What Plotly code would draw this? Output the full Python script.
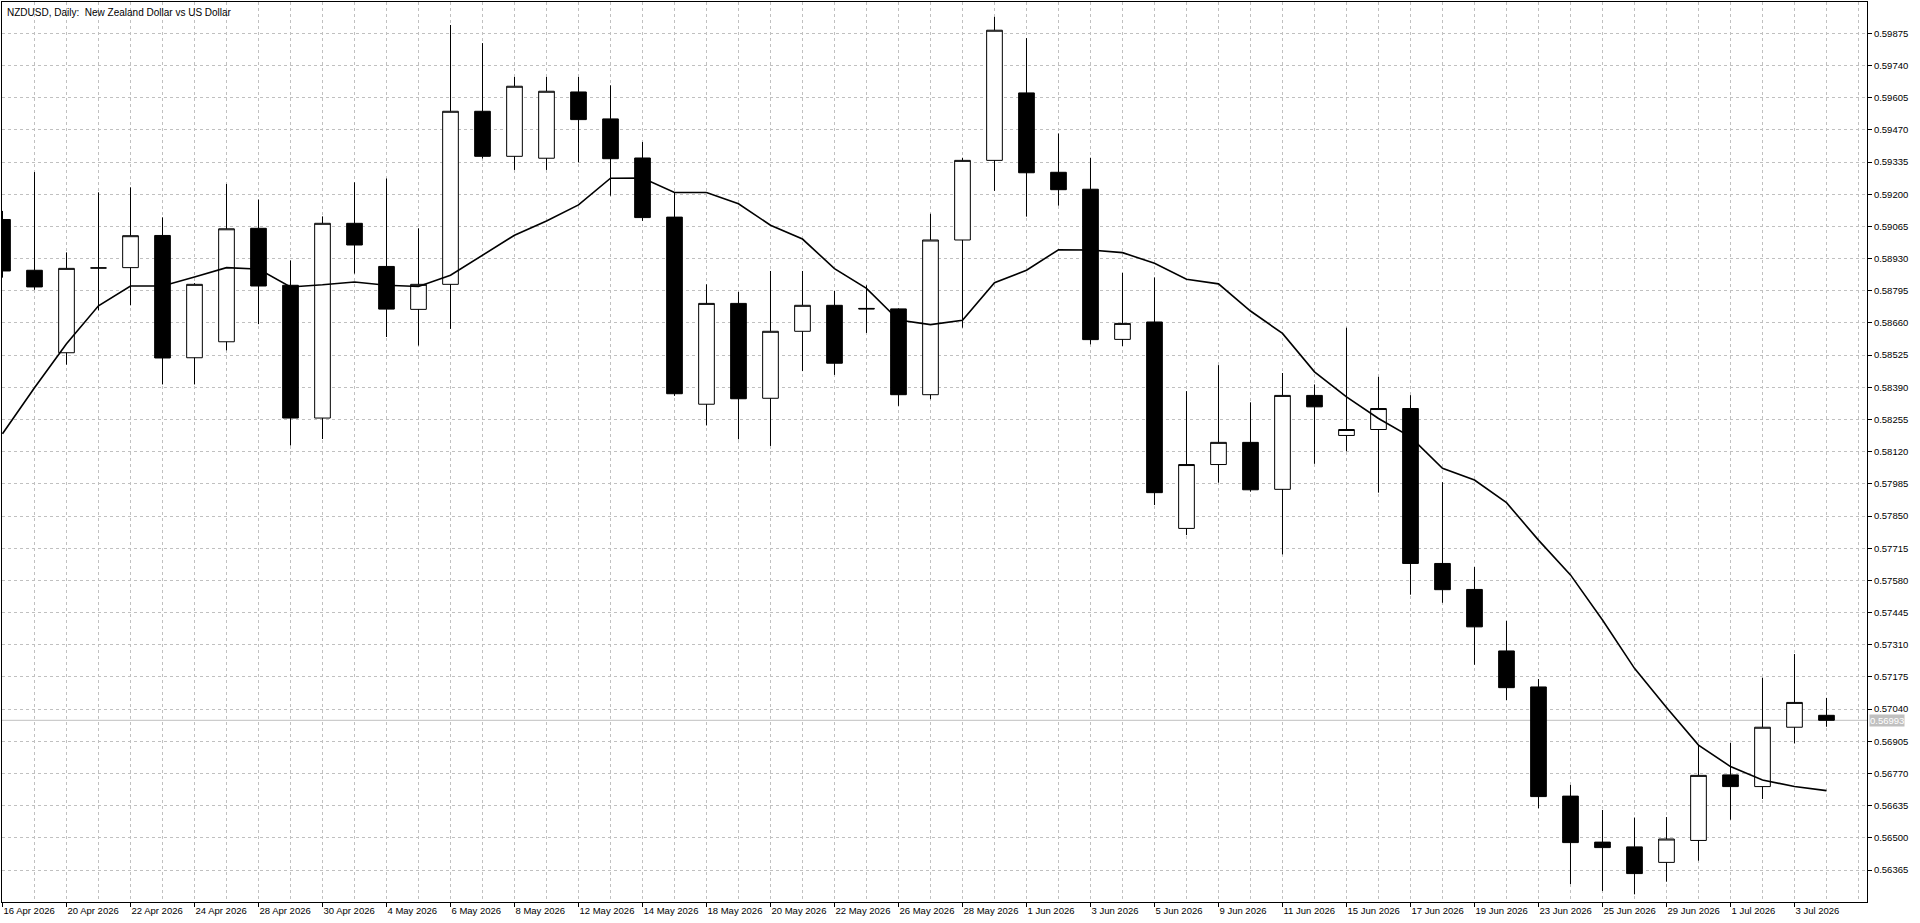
import plotly.graph_objects as go

dates = ["16 Apr 2026", "17 Apr 2026", "20 Apr 2026", "21 Apr 2026", "22 Apr 2026", "23 Apr 2026",
         "24 Apr 2026", "27 Apr 2026", "28 Apr 2026", "29 Apr 2026", "30 Apr 2026", "1 May 2026",
         "4 May 2026", "5 May 2026", "6 May 2026", "7 May 2026", "8 May 2026", "11 May 2026",
         "12 May 2026", "13 May 2026", "14 May 2026", "15 May 2026", "18 May 2026", "19 May 2026",
         "20 May 2026", "21 May 2026", "22 May 2026", "25 May 2026", "26 May 2026", "27 May 2026",
         "28 May 2026", "29 May 2026", "1 Jun 2026", "2 Jun 2026", "3 Jun 2026", "4 Jun 2026",
         "5 Jun 2026", "8 Jun 2026", "9 Jun 2026", "10 Jun 2026", "11 Jun 2026", "12 Jun 2026",
         "15 Jun 2026", "16 Jun 2026", "17 Jun 2026", "18 Jun 2026", "19 Jun 2026", "22 Jun 2026",
         "23 Jun 2026", "24 Jun 2026", "25 Jun 2026", "26 Jun 2026", "29 Jun 2026", "30 Jun 2026",
         "1 Jul 2026", "2 Jul 2026", "3 Jul 2026", "6 Jul 2026"]

opens = [0.59094, 0.58881, 0.58535, 0.58890, 0.58892, 0.59027, 0.58514, 0.58581, 0.59057, 0.58818,
         0.58261, 0.59078, 0.58897, 0.58717, 0.58822, 0.59548, 0.59359, 0.59351, 0.59629, 0.59516,
         0.59352, 0.59104, 0.58319, 0.58742, 0.58344, 0.58625, 0.58734, 0.58721, 0.58719, 0.58359,
         0.59008, 0.59342, 0.59625, 0.59292, 0.59221, 0.58591, 0.58664, 0.57798, 0.58066, 0.58159,
         0.57962, 0.58356, 0.58188, 0.58213, 0.58301, 0.57651, 0.57542, 0.57284, 0.57133, 0.56675,
         0.56482, 0.56462, 0.56397, 0.56489, 0.56764, 0.56715, 0.56964, 0.57014]
highs = [0.59130, 0.59293, 0.58956, 0.59208, 0.59229, 0.59103, 0.58827, 0.59243, 0.59178, 0.58922,
         0.59107, 0.59250, 0.59266, 0.59057, 0.59910, 0.59834, 0.59692, 0.59692, 0.59692, 0.59657,
         0.59419, 0.59207, 0.58822, 0.58790, 0.58878, 0.58878, 0.58794, 0.58818, 0.58721, 0.59118,
         0.59353, 0.59944, 0.59855, 0.59455, 0.59353, 0.58870, 0.58851, 0.58374, 0.58483, 0.58327,
         0.58450, 0.58402, 0.58640, 0.58434, 0.58357, 0.57992, 0.57636, 0.57410, 0.57166, 0.56722,
         0.56617, 0.56585, 0.56587, 0.56889, 0.56898, 0.57172, 0.57271, 0.57087]
lows = [0.58850, 0.58799, 0.58485, 0.58713, 0.58734, 0.58402, 0.58402, 0.58545, 0.58655, 0.58146,
        0.58173, 0.58867, 0.58601, 0.58565, 0.58635, 0.59350, 0.59302, 0.59302, 0.59334, 0.59194,
        0.59088, 0.58354, 0.58230, 0.58172, 0.58144, 0.58458, 0.58442, 0.58618, 0.58312, 0.58340,
        0.58640, 0.59214, 0.59106, 0.59152, 0.58570, 0.58563, 0.57896, 0.57770, 0.57990, 0.57952,
        0.57689, 0.58069, 0.58122, 0.57948, 0.57520, 0.57486, 0.57226, 0.57078, 0.56624, 0.56306,
        0.56277, 0.56263, 0.56316, 0.56404, 0.56576, 0.56663, 0.56896, 0.56966]
closes = [0.58878, 0.58811, 0.58889, 0.58891, 0.59026, 0.58513, 0.58822, 0.59055, 0.58815, 0.58261,
          0.59078, 0.58987, 0.58718, 0.58822, 0.59548, 0.59359, 0.59653, 0.59632, 0.59513, 0.59349,
          0.59102, 0.58363, 0.58742, 0.58342, 0.58625, 0.58734, 0.58491, 0.58719, 0.58359, 0.59008,
          0.59342, 0.59888, 0.59290, 0.59219, 0.58590, 0.58658, 0.57948, 0.58066, 0.58159, 0.57960,
          0.58356, 0.58308, 0.58213, 0.58301, 0.57651, 0.57541, 0.57385, 0.57130, 0.56673, 0.56480,
          0.56459, 0.56350, 0.56495, 0.56762, 0.56715, 0.56964, 0.57068, 0.56993]
ma = [0.58195, 0.58388, 0.58573, 0.58732, 0.58815, 0.58815, 0.58853, 0.58892, 0.58886, 0.58811,
      0.58820, 0.58832, 0.58818, 0.58813, 0.58860, 0.58945, 0.59028, 0.59088, 0.59155, 0.59267,
      0.59268, 0.59207, 0.59207, 0.59160, 0.59070, 0.59012, 0.58888, 0.58805, 0.58672, 0.58653,
      0.58671, 0.58829, 0.58881, 0.58967, 0.58966, 0.58955, 0.58910, 0.58843, 0.58824, 0.58710,
      0.58616, 0.58455, 0.58350, 0.58259, 0.58182, 0.58050, 0.58001, 0.57906, 0.57749, 0.57603,
      0.57414, 0.57211, 0.57047, 0.56889, 0.56799, 0.56743, 0.56715, 0.56698]

price_ticks = [0.56365, 0.56500, 0.56635, 0.56770, 0.56905, 0.57040, 0.57175, 0.57310, 0.57445,
               0.57580, 0.57715, 0.57850, 0.57985, 0.58120, 0.58255, 0.58390, 0.58525, 0.58660,
               0.58795, 0.58930, 0.59065, 0.59200, 0.59335, 0.59470, 0.59605, 0.59740, 0.59875]

title_text = "NZDUSD, Daily:\u00a0 New Zealand Dollar vs US Dollar"

idx = list(range(len(dates)))
label_idx = idx[::2]
label_txt = [dates[i] for i in label_idx]

FONT = "Liberation Sans, DejaVu Sans, sans-serif"
GRID = "#c0c0c0"

fig = go.Figure()
fig.add_trace(go.Candlestick(
    x=idx, open=opens, high=highs, low=lows, close=closes,
    increasing=dict(line=dict(color="black", width=1), fillcolor="white"),
    decreasing=dict(line=dict(color="black", width=1), fillcolor="black"),
    whiskerwidth=0, showlegend=False, hoverinfo="skip",
))
fig.add_trace(go.Scatter(
    x=idx, y=ma, mode="lines", line=dict(color="black", width=1.6),
    showlegend=False, hoverinfo="skip",
))

last = closes[-1]
fig.add_shape(type="line", xref="paper", x0=0, x1=1, yref="y", y0=last, y1=last,
              line=dict(color=GRID, width=1), layer="below")

fig.add_annotation(text=title_text, xref="paper", yref="paper", x=0, y=1,
                   xanchor="left", yanchor="top", xshift=3, yshift=-3, showarrow=False,
                   font=dict(family=FONT, size=10, color="black"))
fig.add_annotation(text=f"{last:.5f}", xref="paper", yref="y", x=1, y=last,
                   xanchor="left", yanchor="middle", xshift=2, showarrow=False,
                   bgcolor=GRID, borderpad=0,
                   font=dict(family=FONT, size=9.5, color="white"))

fig.update_layout(
    width=1920, height=923,
    margin=dict(l=2, r=53, t=2, b=21, pad=0),
    paper_bgcolor="white", plot_bgcolor="white",
    font=dict(family=FONT, size=9.5, color="black"),
    xaxis=dict(
        range=[-0.0156, 58.266], tickmode="array", tickvals=label_idx, ticktext=label_txt,
        ticks="outside", ticklen=4, tickcolor="black", tickwidth=1,
        ticklabelposition="outside right",
        showgrid=True, gridcolor=GRID, griddash="3px,3px", gridwidth=1,
        minor=dict(tickmode="linear", tick0=0, dtick=1, showgrid=True, gridcolor=GRID,
                   griddash="3px,3px", gridwidth=1, ticks=""),
        showline=True, mirror=True, linecolor="black", linewidth=1,
        zeroline=False, rangeslider=dict(visible=False), fixedrange=True,
    ),
    yaxis=dict(
        side="right", range=[0.562308, 0.600064], tickmode="array", tickvals=price_ticks,
        tickformat=".5f", ticks="outside", ticklen=4, tickcolor="black", tickwidth=1,
        showgrid=True, gridcolor=GRID, griddash="3px,3px", gridwidth=1,
        showline=True, mirror=True, linecolor="black", linewidth=1,
        zeroline=False, fixedrange=True,
    ),
)

fig.write_html("out.html")
